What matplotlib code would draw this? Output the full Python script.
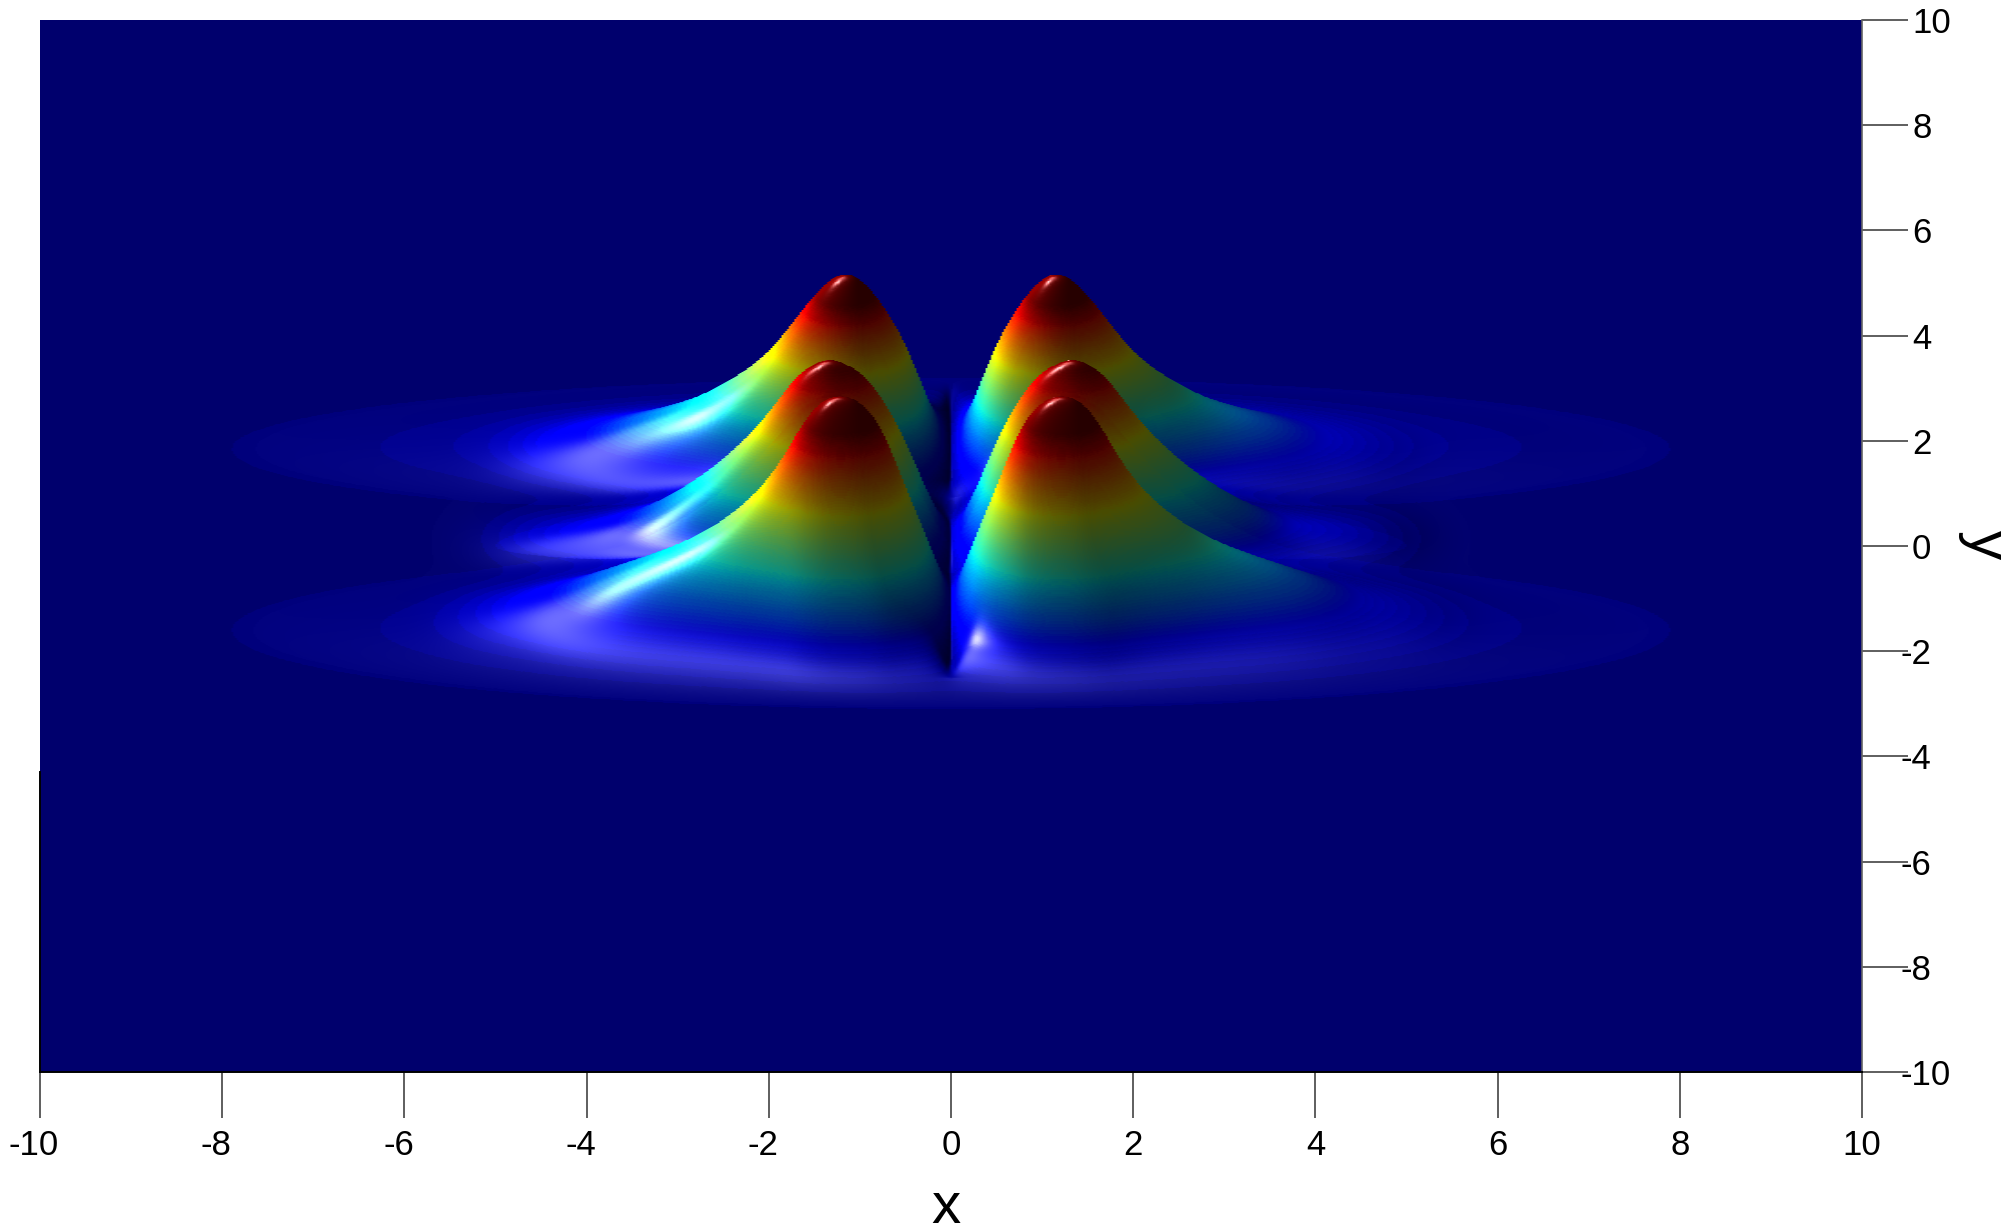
import numpy as np
import matplotlib
matplotlib.use("Agg")
import matplotlib.pyplot as plt
from matplotlib.transforms import ScaledTranslation

# ridge tops, |x| against the height on screen
back_x = [0, .12, .34, .56, .78, 1.0, 1.16, 1.35, 1.62, 1.9, 2.12, 2.34, 2.61, 2.93, 3.4, 4.0, 5.0]
back_top = [1.75, 2.0, 3.1, 4.0, 4.6, 5.05, 5.16, 5.0, 4.45, 3.8, 3.35, 3.1, 2.8, 2.56, 2.35, 2.0, 1.75]
mid_x = [0, .12, .34, .56, .8, 1.0, 1.35, 1.68, 1.96, 2.24, 2.57, 2.84, 3.17, 3.5, 4.2, 5.0]
mid_top = [.15, .45, 1.3, 2.2, 2.9, 3.3, 3.56, 3.25, 2.6, 1.96, 1.45, 1.14, .8, .45, .3, .15]
front_x = [0, .12, .34, .56, .78, 1.0, 1.22, 1.44, 1.66, 1.9, 2.18, 2.5, 2.83, 3.27, 3.7, 4.5, 5.5]
front_top = [-1.3, -.5, .4, 1.33, 2.3, 2.72, 2.84, 2.72, 2.21, 1.45, .8, .35, .05, -.25, -.5, -1.05, -1.3]

# centre of each ridge, and the flat ellipse round it (half x, centre y, half y, level)
ridge_y = [1.7, 0.1, -1.35]
peak_v = [1.12, 1.02, 1.12]
ellipse_a = [7.9, 5.0, 7.9]
ellipse_y = [1.85, -0.05, -1.6]
ellipse_b = [1.35, 0.55, 1.5]
ellipse_v = [0.07, 0.05, 0.07]

x_ticks = [-10, -8, -6, -4, -2, 0, 2, 4, 6, 8, 10]
y_ticks = [-10, -8, -6, -4, -2, 0, 2, 4, 6, 8, 10]

plt.rcParams["font.family"] = "Liberation Sans"


def smooth(values, step, sigma):
	n = int(4 * sigma / step)
	kernel = np.exp(-0.5 * (np.arange(-n, n + 1) * step / sigma) ** 2)
	return np.convolve(values, kernel / kernel.sum(), mode="same")


def render():
	nx, ny = 1000, 2600
	xs = np.linspace(-10, 10, nx)
	ys = np.linspace(-10, 10, ny)
	X, Y = np.meshgrid(xs, ys)
	Z = np.zeros_like(X)
	V = np.zeros_like(X)
	dx = xs[1] - xs[0]

	lobes = [(back_x, back_top), (mid_x, mid_top), (front_x, front_top)]
	for i, (lx, ltop) in enumerate(lobes):
		zmax = max(ltop) - ridge_y[i]
		# the ellipse lifts the ridge, take that off again
		rr = (xs / ellipse_a[i]) ** 2 + ((ridge_y[i] - ellipse_y[i]) / ellipse_b[i]) ** 2
		win0 = np.clip(1 - rr, 0, 1)
		lift = ellipse_v[i] * zmax * win0 ** 2
		tops = np.interp(np.abs(xs), lx, ltop, right=ridge_y[i] - 1)
		amp = np.clip(tops - ridge_y[i] + 0.04 - lift, 0, None)
		near = smooth(amp, dx, 0.1)
		far = smooth(amp, dx, 0.3)
		w = np.clip((np.abs(xs) - 1.6) / 1.0, 0, 1)
		w = w * w * (3 - 2 * w)
		amp = (near * (1 - w) + far * w) / (0.85 + 0.15 * win0)

		r2 = (X / ellipse_a[i]) ** 2 + ((Y - ellipse_y[i]) / ellipse_b[i]) ** 2
		window = np.clip(1 - r2, 0, 1)
		d = Y - ridge_y[i]
		profile = 0.85 * np.exp(-0.5 * (d / 0.38) ** 2) + 0.15 * np.exp(-0.5 * (d / 0.6) ** 2) * window
		ridge = amp[None, :] * profile
		# dark slit along x = 0, it stops short of the ellipse's lower edge
		slit = np.clip((Y - ellipse_y[i] + 1.0) / 0.4, 0, 1)
		notch = 1 - slit * 0.005 / (X ** 2 + 0.005)
		flat = ellipse_v[i] * window ** 2 * notch
		Z += ridge + flat * zmax
		V += (ridge / zmax + flat) * peak_v[i] + np.where(r2 < 1, 0.0115, 0)

	Zy, Zx = np.gradient(Z, ys, xs)
	norm = np.sqrt(Zx ** 2 + Zy ** 2 + 1)
	nrm = (-Zx / norm, -Zy / norm, 1 / norm)

	# light from the upper left, flat ground keeps its plain colour
	diff = np.clip((nrm[0] * -0.65 + nrm[2] * 0.76) / 0.76, 0, 1.2)
	shade = 0.3 + 0.7 * diff ** 1.4

	def spec(h, power):
		h = np.array(h, dtype=float)
		h = h / np.linalg.norm(h)
		return np.clip(nrm[0] * h[0] + nrm[1] * h[1] + nrm[2] * h[2], 0, 1) ** power

	glow = 0.42 * spec([-0.35, -0.55, 1.0], 22)
	streak = 0.75 * spec([-0.7, -1.1, 1.0], 90)
	cap = 0.9 * spec([-0.35, 0.9, 1.0], 300) * np.clip((V - 0.6) / 0.2, 0, 1)
	shine = np.where(Z > 0.001, glow + streak + cap, 0)

	levels = np.floor(np.clip(V, 0, 1) * 90) / 90
	rgb = plt.cm.jet(levels)[..., :3]
	# the ground blue of the picture is a little darker than jet's
	rgb[..., 2] = np.where(levels < 0.11, 0.43 + 0.57 * levels / 0.11, rgb[..., 2])
	rgb = rgb * np.where(Z > 0.001, shade, 1)[..., None] + shine[..., None]
	rgb = np.clip(rgb, 0, 1).astype(np.float32)

	# front to back per column, what is already higher hides what is behind
	rows = np.linspace(-10, 10, 1052)
	img = np.zeros((len(rows), nx, 3), dtype=np.float32)
	for c in range(nx):
		top = np.maximum.accumulate(Y[:, c] + Z[:, c])
		idx = np.clip(np.searchsorted(top, rows), 0, ny - 1)
		img[:, c] = rgb[idx, c]
	return img


def main():
	fig = plt.figure(figsize=(20.12, 12.32), dpi=100)
	ax = fig.add_axes([40 / 2012, 1 - 1072 / 1232, 1822 / 2012, 1052 / 1232])
	ax.imshow(render(), extent=[-10, 10, -10, 10], origin="lower", aspect="auto", interpolation="bilinear")
	ax.set_xlim(-10, 10)
	ax.set_ylim(-10, 10)

	for s in ["top", "left"]:
		ax.spines[s].set_visible(False)
	ax.spines["bottom"].set_linewidth(1.4)
	ax.spines["right"].set_color("#666666")
	ax.spines["right"].set_linewidth(1.2)
	ax.plot([-10, -10], [-10, -4.3], color="black", lw=1.4, clip_on=False)

	ax.set_xticks(x_ticks)
	ax.set_yticks(y_ticks)
	ax.yaxis.tick_right()
	ax.tick_params(axis="both", length=33, width=1.1, color="#333333", labelsize=25)
	ax.tick_params(axis="x", pad=8)
	ax.tick_params(axis="y", pad=3)
	ax.set_xticklabels([str(t) for t in x_ticks])
	ax.set_yticklabels([str(t) for t in y_ticks])
	for t, lab in zip(x_ticks, ax.get_xticklabels()):
		if t < 0:
			lab.set_transform(lab.get_transform() + ScaledTranslation(-6 / 100, 0, fig.dpi_scale_trans))
	for t, lab in zip(y_ticks, ax.get_yticklabels()):
		if t < 0:
			lab.set_transform(lab.get_transform() + ScaledTranslation(-12 / 100, 0, fig.dpi_scale_trans))

	fig.text(946 / 2012, 1 - 1208 / 1232, "x", fontsize=42, ha="center", va="center")
	fig.text(1985 / 2012, 1 - 545 / 1232, "y", fontsize=42, ha="center", va="center", rotation=-90)

	fig.savefig("out.png", dpi=100)


if __name__ == "__main__":
	main()
